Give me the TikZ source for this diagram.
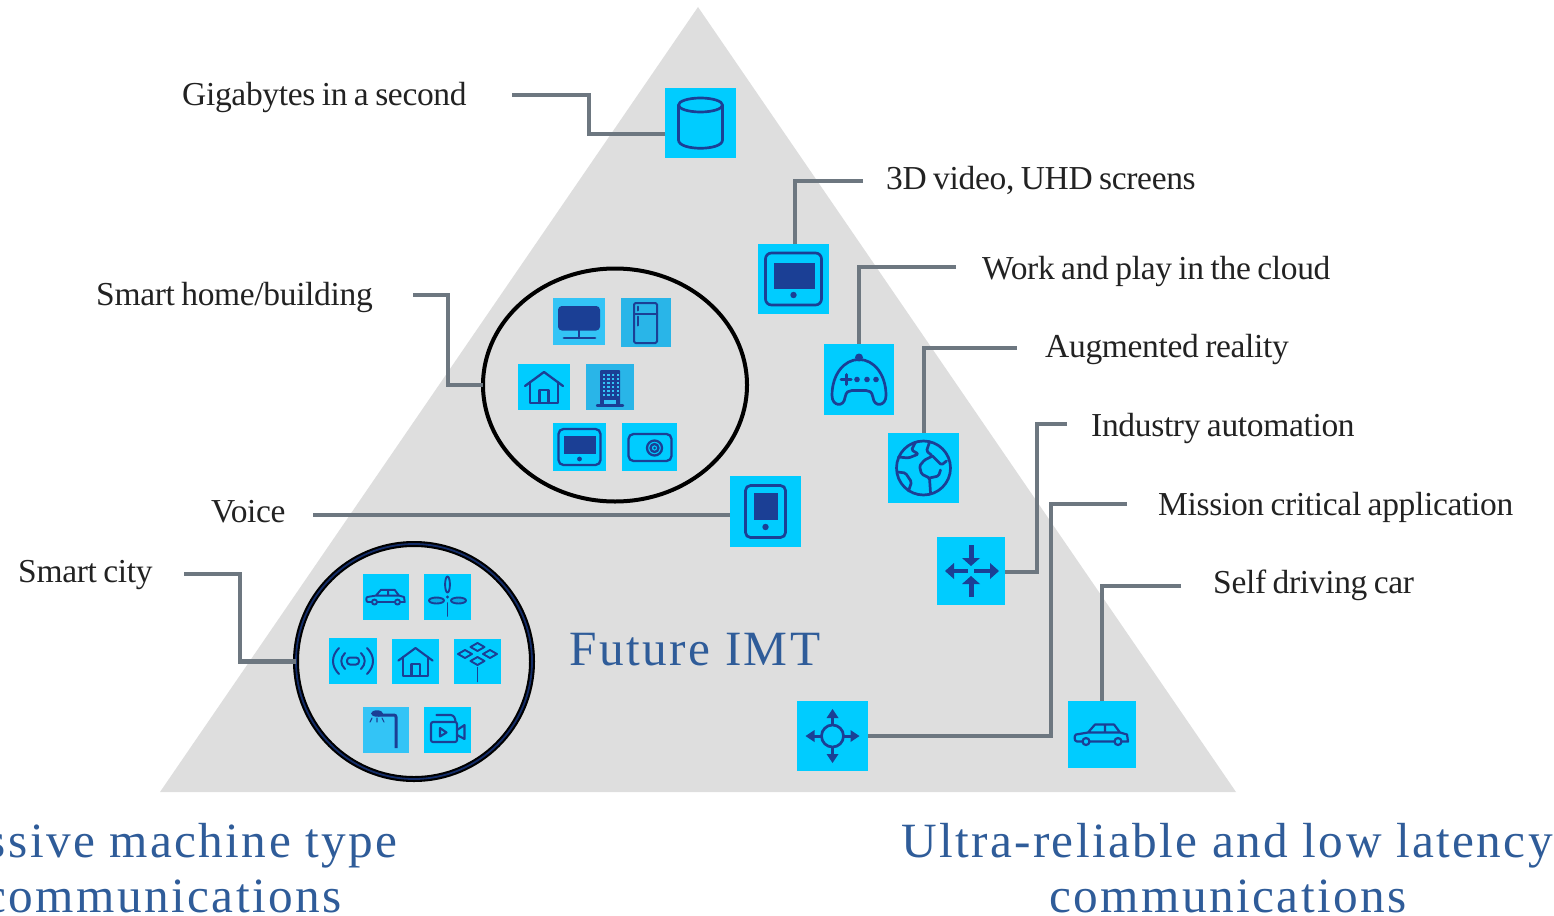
\documentclass[tikz,border=0pt]{standalone}
\usepackage{fontspec}
\usetikzlibrary{shapes.geometric}
\setmainfont{Liberation Serif}
\newfontfamily\lblfont[LetterSpace=-1,WordSpace=0.8]{Liberation Serif}
\newfontfamily\ttlfont[LetterSpace=4.8]{Liberation Serif}
\definecolor{tri}{HTML}{DEDEDE}
\definecolor{sqa}{HTML}{00CCFF}
\definecolor{sqb}{HTML}{33C4F6}
\definecolor{sqc}{HTML}{29B5E8}
\definecolor{icblue}{HTML}{1B3F95}
\definecolor{connc}{HTML}{6D7780}
\definecolor{ttlc}{HTML}{2F5C99}
\definecolor{lblc}{HTML}{222222}
\tikzset{
  x=1pt,y=-1pt,
  iclw/.store in=\iclwval, iclw=1.6pt,
  ic/.style={draw=icblue,line width=\iclwval,line cap=round,line join=round},
  icf/.style={fill=icblue},
  sq/.style={fill=#1,draw=none,inner sep=0pt,outer sep=0pt},
  sq/.default=sqa,
  conn/.style={draw=connc,line width=4.2pt,line join=miter},
  connthin/.style={draw=connc,line width=3.3pt,line join=miter},
  lbl/.style={anchor=base west,inner sep=0pt,text=lblc,font=\lblfont\fontsize{33.5}{36}\selectfont},
  ttl/.style={anchor=base,inner sep=0pt,text=ttlc,font=\ttlfont\fontsize{49.3}{54}\selectfont},
  pics/iconcyl/.style={code={
    \draw[ic] (0,-18) ellipse [x radius=22,y radius=7];
    \draw[ic] (-22,-18) -- (-22,17) .. controls (-22,28) and (22,28) .. (22,17) -- (22,-18);
  }},
  pics/icontablet/.style={code={
    \draw[ic,rounded corners=6pt] (-28,-26) rectangle (28,26);
    \fill[icf] (-20,-16) rectangle (21,10);
    \fill[icf] (0,16) circle [radius=3.2];
  }},
  pics/icongame/.style={code={
    \draw[ic] (-27,16) .. controls (-27,-5) and (-15,-20) .. (0,-20) .. controls (15,-20) and (27,-5) .. (27,16) .. controls (27,27) and (15,28) .. (14,18) .. controls (13,12) and (10,11) .. (7,11) -- (-7,11) .. controls (-10,11) and (-13,12) .. (-14,18) .. controls (-15,28) and (-27,27) .. (-27,16) -- cycle;
    \fill[icf] (0,-22) circle [radius=4];
    \draw[ic,line width=3pt] (-18,0) -- (-8,0) (-13,-5) -- (-13,5);
    \foreach \px in {-2,8,17}{\fill[icf] (\px,0) circle [radius=2.8];}
  }},
  pics/iconglobe/.style={code={
    \draw[ic] (0,0) circle [radius=27];
    \draw[ic,rounded corners=1.5pt] (-8,-26) -- (-12,-18) -- (-5,-14) -- (-15,-10) -- (-25,-11);
    \draw[ic,rounded corners=1.5pt] (6,-26) -- (3,-17) -- (9,-12) -- (1,-8) -- (-4,-2) -- (-2,6) -- (6,10) -- (7,25);
    \draw[ic,rounded corners=1.5pt] (-26,4) -- (-18,5) -- (-12,14) -- (-15,23);
    \draw[ic,rounded corners=1.5pt] (9,-12) -- (18,-3) -- (23,-7);
    \draw[ic,rounded corners=1.5pt] (6,10) -- (15,8) -- (17,2);
  }},
  pics/iconphone/.style={code={
    \draw[ic,rounded corners=5pt] (-20,-26) rectangle (20,26);
    \fill[icf] (-12,-18.5) rectangle (12,8.5);
    \fill[icf] (0,15.5) circle [radius=3.2];
  }},
  pics/iconin/.style={code={
    \draw[ic,line width=3.6pt,line cap=butt] (-20,0) -- (-3,0) (3,0) -- (22,0);
    \fill[icf] (-26,0) -- (-17,-8) -- (-17,8) -- cycle;
    \fill[icf] (28,0) -- (19,-8) -- (19,8) -- cycle;
    \draw[ic,line width=5pt,line cap=butt] (0,-26) -- (0,-12) (0,12) -- (0,26);
    \fill[icf] (0,-5) -- (-9,-13) -- (9,-13) -- cycle;
    \fill[icf] (0,5) -- (-9,13) -- (9,13) -- cycle;
  }},
  pics/iconout/.style={code={
    \draw[ic] (0,0) circle [radius=11];
    \draw[ic,line width=3pt,line cap=butt] (-11,0) -- (-20,0) (11,0) -- (20,0) (0,-11) -- (0,-20) (0,11) -- (0,20);
    \fill[icf] (-27,0) -- (-18,-6) -- (-18,6) -- cycle;
    \fill[icf] (27,0) -- (18,-6) -- (18,6) -- cycle;
    \fill[icf] (0,-27) -- (-6,-18) -- (6,-18) -- cycle;
    \fill[icf] (0,27) -- (-6,18) -- (6,18) -- cycle;
  }},
  pics/iconcar/.style={code={
    \draw[ic] (-19,7) -- (-25,7) .. controls (-28,7) and (-28,1) .. (-26,0) -- (-14,-2) -- (-7,-10) -- (12,-10) -- (18,-2) -- (25,0) -- (26,7) -- (20,7)
      (-12,7) -- (12,7) (-14,-2) -- (18,-2) (3,-10) -- (3,-2);
    \draw[ic] (-16,7) circle [radius=3.5] (16,7) circle [radius=3.5];
  }},
  pics/iconmon/.style={code={
    \draw[ic,fill=icblue,rounded corners=3pt] (-20,-14.5) rectangle (20,8);
    \draw[ic,line width=2.6pt] (0,8) -- (0,16);
    \draw[ic,line width=2.8pt] (-15,16.5) -- (16,16.5);
  }},
  pics/iconfridge/.style={code={
    \draw[ic,rounded corners=1.5pt] (-12,-19.5) rectangle (11,20.5);
    \draw[ic] (-12,-9) -- (11,-9);
    \draw[ic] (-8,-16) -- (-8,-12) (-8,-6) -- (-8,3);
  }},
  pics/iconhouse/.style={code={
    \draw[ic] (-19,-1) -- (0,-15) -- (19,-1);
    \draw[ic] (-14,-5) -- (-14,16) -- (14,16) -- (14,-5);
    \draw[ic] (-4.5,16) -- (-4.5,3) -- (4.5,3) -- (4.5,16);
  }},
  pics/iconbldg/.style={code={
    \fill[icf,rounded corners=1pt] (-10,-17) rectangle (10,18);
    \foreach \px in {-7.2,-2.6,2,6.6}{\foreach \py in {-13,-9,-5,-1,3,7}{\fill[sqb] (\px,\py) rectangle ++(2.4,2.4);}}
    \fill[sqb] (-6,12.5) rectangle (6,17);
    \draw[ic,line width=2.4pt] (-13,18.5) -- (13,18.5);
  }},
  pics/icontv/.style={code={
    \draw[ic,rounded corners=5pt] (-21,-18) rectangle (21,18);
    \fill[icf] (-16,-11) rectangle (16,7);
    \fill[icf] (0,12) circle [radius=2.4];
  }},
  pics/iconsafe/.style={code={
    \draw[ic,rounded corners=5pt] (-21,-13) rectangle (22,14);
    \draw[ic] (5,1) circle [radius=7.5] (5,1) circle [radius=4];
    \fill[icf] (5,1) circle [radius=1.5];
  }},
  pics/iconturb/.style={code={
    \draw[ic] (0,-12.5) ellipse [x radius=2.4,y radius=8];
    \draw[ic,fill=icblue!25!sqa] (-11,3.5) ellipse [x radius=7.5,y radius=3];
    \draw[ic,fill=icblue!25!sqa] (11,3.5) ellipse [x radius=7.5,y radius=3];
    \fill[icf] (0,0) circle [radius=1.6];
    \draw[ic] (0,6) -- (0,19);
  }},
  pics/iconsig/.style={code={
    \draw[ic,rounded corners=3pt] (-6,-3.5) rectangle (6,3.5);
    \draw[ic] (-8,-8) .. controls (-13,-3) and (-13,3) .. (-8,8);
    \draw[ic] (8,-8) .. controls (13,-3) and (13,3) .. (8,8);
    \draw[ic] (-14,-13) .. controls (-22,-5) and (-22,5) .. (-14,13);
    \draw[ic] (14,-13) .. controls (22,-5) and (22,5) .. (14,13);
  }},
  pics/icontree/.style={code={
    \foreach \px/\py in {0/-14.5,-12.5/-7.5,12.5/-7.5,0/-0.5}{
      \draw[ic] (\px-7,\py) -- (\px,\py-4) -- (\px+7,\py) -- (\px,\py+4) -- cycle;}
    \draw[ic] (0,6) -- (0,20);
  }},
  pics/iconlamp/.style={code={
    \draw[ic,line width=3pt,line cap=butt,rounded corners=2pt] (10,18) -- (10,-15) -- (-8,-15);
    \fill[icf] (-9,-16.5) ellipse [x radius=6,y radius=3.2];
    \draw[ic,line width=1.1pt] (-14,-12) -- (-16,-8) (-9,-12) -- (-9,-8) (-4,-12) -- (-2,-8);
  }},
  pics/iconcam/.style={code={
    \draw[ic,rounded corners=2pt] (-16.5,-8) rectangle (9.5,12);
    \draw[ic] (-7.5,-2) -- (-1,2.5) -- (-7.5,6.5) -- cycle;
    \draw[ic] (9.5,0) -- (17,-5) -- (17,9) -- (9.5,5);
    \draw[ic] (-11,-15) -- (3,-15) .. controls (6,-15) and (8,-12) .. (8,-8);
  }},
}
\begin{document}
\begin{tikzpicture}
\useasboundingbox (0,0) rectangle (1554,915);
\fill[tri] (698,7) -- (1236,792) -- (160,792) -- cycle;

% icon squares
\node[sq,minimum width=71pt,minimum height=70pt] (ncyl) at (700.5,123) {};
\node[sq,minimum width=71pt,minimum height=70pt] (ntab) at (793.5,279) {};
\node[sq,minimum width=70pt,minimum height=71pt] (ngame) at (859,379.5) {};
\node[sq,minimum width=71pt,minimum height=70pt] (nglobe) at (923.5,468) {};
\node[sq,minimum width=71pt,minimum height=71pt] (nphone) at (765.5,511.5) {};
\node[sq,minimum width=68pt,minimum height=68pt] (nin) at (971,571) {};
\node[sq,minimum width=71pt,minimum height=70pt] (nout) at (832.5,736) {};
\node[sq,minimum width=68pt,minimum height=67pt] (ncar) at (1102,734.5) {};

% circles
\node[draw=black,line width=4pt,ellipse,minimum width=264pt,minimum height=233pt,inner sep=0pt,outer sep=0pt] (chome) at (615,385) {};
\node[draw=black,line width=6pt,ellipse,minimum width=236pt,minimum height=235pt,inner sep=0pt,outer sep=0pt] (ccity) at (414,661.5) {};
\draw[draw=icblue!70!black,line width=1.8pt] (ccity.center) ellipse [x radius=118,y radius=117.5];

% small squares in the home circle
\node[sq=sqb,minimum width=52pt,minimum height=47pt] (hmon) at (579,321.5) {};
\node[sq=sqc,minimum width=50pt,minimum height=49pt] (hfri) at (646,322.5) {};
\node[sq,minimum width=52pt,minimum height=46pt] (hhou) at (544,387) {};
\node[sq=sqc,minimum width=48pt,minimum height=46pt] (hbld) at (610,387) {};
\node[sq,minimum width=53pt,minimum height=48pt] (htv) at (579.5,447) {};
\node[sq,minimum width=55pt,minimum height=48pt] (hsaf) at (649.5,447) {};

% small squares in the city circle
\node[sq,minimum width=46pt,minimum height=46pt] (ccar) at (386,597) {};
\node[sq,minimum width=47pt,minimum height=46pt] (ctur) at (447.5,597) {};
\node[sq,minimum width=48pt,minimum height=46pt] (csig) at (353,661) {};
\node[sq,minimum width=47pt,minimum height=45pt] (chou) at (415.5,661.5) {};
\node[sq,minimum width=47pt,minimum height=45pt] (ctre) at (477.5,661.5) {};
\node[sq=sqb,minimum width=46pt,minimum height=46pt] (clmp) at (386,730) {};
\node[sq,minimum width=47pt,minimum height=46pt] (ccam) at (447.5,730) {};

% icons
\pic[iclw=2.7pt] at (ncyl) {iconcyl};
\pic[iclw=2.7pt] at (ntab) {icontablet};
\pic[iclw=2.7pt] at (ngame) {icongame};
\pic[iclw=2.7pt] at (nglobe) {iconglobe};
\pic[iclw=2.7pt] at (nphone) {iconphone};
\pic[iclw=2.7pt] at (nin) {iconin};
\pic[iclw=2.7pt] at (nout) {iconout};
\pic[iclw=2.2pt] at (ncar) {iconcar};
\pic[iclw=2pt] at (hmon) {iconmon};
\pic[iclw=2pt] at (hfri) {iconfridge};
\pic[iclw=2.3pt] at (hhou) {iconhouse};
\pic[iclw=2pt] at (hbld) {iconbldg};
\pic[iclw=2.3pt] at (htv) {icontv};
\pic[iclw=2.3pt] at (hsaf) {iconsafe};
\pic[iclw=1.9pt,scale=.72] at (ccar) {iconcar};
\pic[iclw=1.9pt] at (ctur) {iconturb};
\pic[iclw=2pt] at (csig) {iconsig};
\pic[iclw=2.1pt,scale=.9] at (chou) {iconhouse};
\pic[iclw=1.9pt] at (ctre) {icontree};
\pic[iclw=1.9pt] at (clmp) {iconlamp};
\pic[iclw=2.1pt] at (ccam) {iconcam};

% labels
\node[lbl] (lgiga) at (182,106) {Gigabytes in a second};
\node[lbl] (l3d) at (886,189) {3D video, UHD screens};
\node[lbl] (lwork) at (982,279) {Work and play in the cloud};
\node[lbl] (lar) at (1045,357) {Augmented reality};
\node[lbl] (lind) at (1091,436) {Industry automation};
\node[lbl] (lmis) at (1158,515) {Mission critical application};
\node[lbl] (lself) at (1213,593) {Self driving car};
\node[lbl] (lhome) at (96,305) {Smart home/building};
\node[lbl] (lvoice) at (211,522) {Voice};
\node[lbl] (lcity) at (18,582) {Smart city};
\node[ttl] (tfut) at (695,665) {Future IMT};
\node[ttl] (tul1) at (1227,857) {Ultra-reliable and low latency};
\node[ttl] (tul2) at (1228,912) {communications};
\node[ttl] (tma1) at (157,857) {Massive machine type};
\node[ttl] (tma2) at (163,912) {communications};

% free ends of the connectors
\coordinate (egiga) at (512,95);
\coordinate (e3d) at (863,181);
\coordinate (ework) at (956,267);
\coordinate (ear) at (1017,348);
\coordinate (eind) at (1067,424);
\coordinate (emis) at (1127,504);
\coordinate (eself) at (1181,586);
\coordinate (ehome) at (413,295);
\coordinate (evoice) at (313,515);
\coordinate (ecity) at (184,574);
\coordinate (bgiga) at (589,95);
\coordinate (bhome) at (448,295);
\coordinate (bcity) at (240,574);
\coordinate (bind) at (1037,424);
\coordinate (bmis) at (1051,504);

% connectors
\draw[conn] (egiga) -- (bgiga) |- ([yshift=-11pt]ncyl.west);
\draw[conn] (e3d) -| ([xshift=1.5pt]ntab.north);
\draw[conn] (ework) -| (ngame.north);
\draw[conn] (ear) -| ([xshift=.5pt]nglobe.north);
\draw[conn] (eind) -- (bind) |- ([yshift=-1pt]nin.east);
\draw[conn] (emis) -- (bmis) |- (nout.east);
\draw[connthin] (eself) -| (ncar.north);
\draw[conn] (ehome) -- (bhome) |- (chome.west);
\draw[conn] (evoice) -- ([yshift=-3.5pt]nphone.west);
\draw[conn] (ecity) -- (bcity) |- (ccity.west);
\end{tikzpicture}
\end{document}
